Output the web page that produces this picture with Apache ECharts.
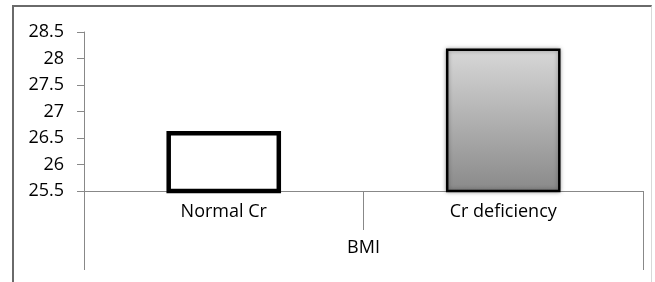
<!DOCTYPE html>
<html><head><meta charset="utf-8">
<script src="https://cdn.jsdelivr.net/npm/echarts@6/dist/echarts.min.js"></script>
<style>
html,body{margin:0;padding:0;background:#fff;}
#wrap{position:relative;width:655px;height:282px;overflow:hidden;}
#frame{position:absolute;left:12px;top:5px;width:640px;height:300px;border-top:2px solid #6a6a6a;border-left:2px solid #6a6a6a;border-right:1px solid #d8d8d8;box-sizing:border-box;pointer-events:none;}
#chart{position:absolute;left:0;top:0;width:655px;height:282px;}
</style></head>
<body><div id="wrap"><div id="chart"></div><div id="frame"></div></div>
<script>
const categories = ['Normal Cr', 'Cr deficiency'];
const groupLabel = ['BMI'];
const values = [26.63, 28.19];
const yMin = 25.5, yMax = 28.5, yStep = 0.5;

const chart = echarts.init(document.getElementById('chart'), null, {renderer: 'canvas'});
const font = '"Open Sans", "Noto Sans", sans-serif';
chart.setOption({
  animation: false,
  grid: {left: 84, right: 12, top: 32, bottom: 91, containLabel: false},
  xAxis: [{
    type: 'category', data: categories, position: 'bottom', gridIndex: 0,
    axisLine: {show: true, lineStyle: {color: '#888', width: 1}},
    axisTick: {show: true, length: 39, interval: 0, lineStyle: {color: '#888', width: 1}},
    axisLabel: {margin: 12, fontSize: 18, fontFamily: font, color: '#000'}
  }, {
    type: 'category', data: groupLabel, position: 'bottom', gridIndex: 0,
    axisLine: {show: false},
    axisTick: {show: true, length: 79, lineStyle: {color: '#888', width: 1}},
    axisLabel: {margin: 48, fontSize: 18, fontFamily: font, color: '#000'}
  }],
  yAxis: {
    type: 'value', min: yMin, max: yMax, interval: yStep,
    axisLine: {show: true, lineStyle: {color: '#888', width: 1}},
    axisTick: {show: true, length: 7, lineStyle: {color: '#888', width: 1}},
    splitLine: {show: false},
    axisLabel: {margin: 20, fontSize: 18, fontFamily: font, color: '#000'}
  },
  series: [{
    type: 'bar', xAxisIndex: 0, barWidth: '41%',
    data: values.map((v, i) => ({
      value: v,
      itemStyle: i === 0 ? {color: '#fff', borderColor: '#000', borderWidth: 4.5}
        : {color: new echarts.graphic.LinearGradient(0, 0, 0, 1, [{offset: 0, color: '#d8d8d8'}, {offset: 1, color: '#898989'}]),
           borderColor: '#000', borderWidth: 2.5, shadowColor: 'rgba(0,0,0,0.35)', shadowBlur: 4}
    }))
  }]
});
</script></body></html>
